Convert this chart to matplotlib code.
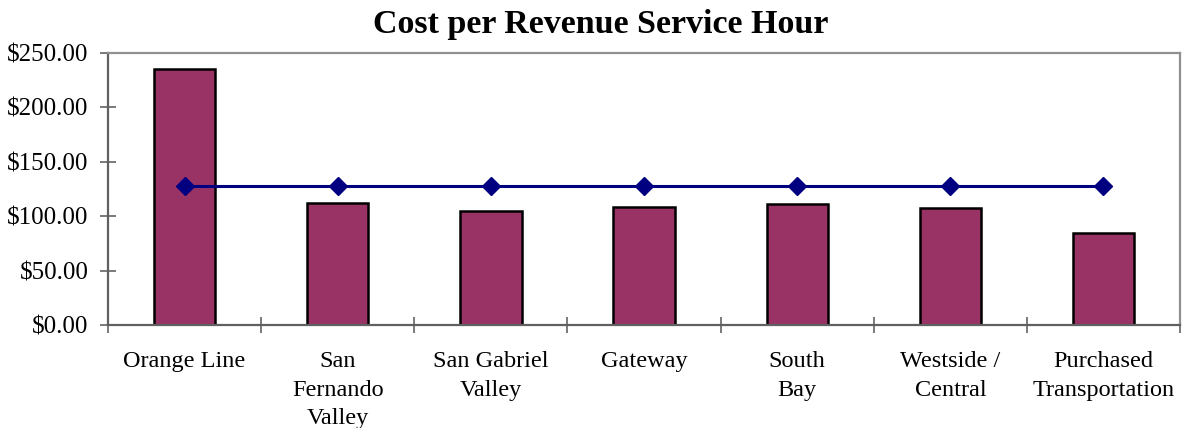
import matplotlib
matplotlib.use("Agg")
import matplotlib.pyplot as plt
import numpy as np

categories = ["Orange Line", "San\nFernando\nValley", "San Gabriel\nValley", "Gateway",
              "South\nBay", "Westside /\nCentral", "Purchased\nTransportation"]
cost_per_hour = [235.5, 112.0, 105.2, 108.6, 111.6, 107.8, 84.6]
system_average = [128.2, 128.2, 128.2, 128.2, 128.2, 128.2, 128.2]
y_ticks = [0, 50, 100, 150, 200, 250]
y_tick_labels = ["$0.00", "$50.00", "$100.00", "$150.00", "$200.00", "$250.00"]

plt.rcParams['font.family'] = ['Liberation Serif', 'DejaVu Serif']

fig = plt.figure(figsize=(11.83, 4.28), dpi=100)
ax = fig.add_axes([0.0913, 0.2407, 0.9062, 0.6353])

x = np.arange(len(categories))
ax.bar(x, cost_per_hour, width=0.4, color="#993366", edgecolor="black", linewidth=1.8, zorder=2)
ax.plot(x, system_average, color="#000080", linewidth=2.2, marker="D", markersize=9,
        markerfacecolor="#000080", markeredgecolor="#000080", zorder=3)

ax.set_xlim(-0.5, len(categories) - 0.5)
ax.set_ylim(0, 250)
ax.set_yticks(y_ticks)
ax.set_yticklabels(y_tick_labels, fontsize=18)
ax.set_xticks(x)
ax.set_xticklabels(categories, fontsize=17.5, linespacing=1.45)
ax.set_xticks(np.arange(-0.5, len(categories), 1.0), minor=True)
ax.tick_params(axis='x', which='major', length=0, pad=19)
ax.tick_params(axis='x', which='minor', direction='inout', length=12, width=1.3, color='#707070')
ax.tick_params(axis='y', direction='inout', length=12, width=1.3, color='#707070', pad=8)

for s in ['left', 'bottom']:
    ax.spines[s].set_color('#606060')
    ax.spines[s].set_linewidth(1.6)
for s in ['top', 'right']:
    ax.spines[s].set_color('#909090')
    ax.spines[s].set_linewidth(1.6)

fig.suptitle("Cost per Revenue Service Hour", fontsize=24.5, fontweight='bold', x=0.508, y=0.98)

fig.savefig("out.png", dpi=100)
